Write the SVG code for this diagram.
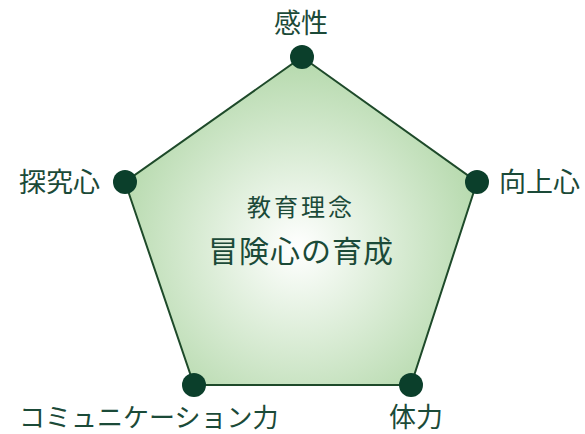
<svg xmlns="http://www.w3.org/2000/svg" width="585" height="434" viewBox="0 0 585 434">
<style>
.lbl{font-family:"Noto Sans CJK JP","Noto Sans",sans-serif;font-size:27px;fill:#1b4a38;}
.dot{fill:#0b3f2b;}
</style>
<defs>
<radialGradient id="g" cx="298" cy="248" r="190" gradientUnits="userSpaceOnUse">
<stop offset="0" stop-color="#ffffff"/>
<stop offset="1" stop-color="#b5d9ac"/>
</radialGradient>
</defs>
<g id="connectors">
<polygon points="302,57 477,182 411,385 194,385 125,182" fill="url(#g)" stroke="#1e4a2a" stroke-width="2"/>
</g>
<g id="center">
<text x="301" y="216" text-anchor="middle" class="lbl" style="font-size:24px;letter-spacing:3px">教育理念</text>
<text x="301" y="262" text-anchor="middle" class="lbl" style="font-size:30px;letter-spacing:1px">冒険心の育成</text>
</g>
<g id="n1"><circle class="dot" cx="302" cy="57" r="12"/><text class="lbl" x="301" y="33" text-anchor="middle">感性</text></g>
<g id="n2"><circle class="dot" cx="477" cy="182" r="12"/><text class="lbl" x="499" y="192">向上心</text></g>
<g id="n3"><circle class="dot" cx="411" cy="385" r="12"/><text class="lbl" x="416" y="427" text-anchor="middle">体力</text></g>
<g id="n4"><circle class="dot" cx="194" cy="385" r="12"/><text class="lbl" x="19" y="427" style="font-size:26px">コミュニケーション力</text></g>
<g id="n5"><circle class="dot" cx="125" cy="182" r="12"/><text class="lbl" x="19" y="192">探究心</text></g>
</svg>
